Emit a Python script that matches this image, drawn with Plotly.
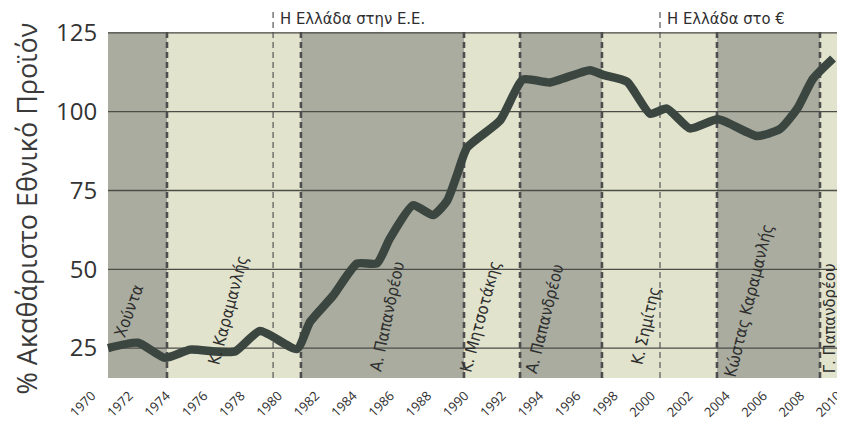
import plotly.graph_objects as go

# ---- data ----
years = [1970.0, 1971.65, 1973.13, 1974.51, 1975.88, 1976.98, 1978.35, 1980.38,
         1981.10, 1982.36, 1983.68, 1984.78, 1985.49, 1986.76, 1987.86, 1988.63,
         1989.18, 1989.73, 1991.54, 1992.80, 1994.29, 1996.48, 1997.20, 1998.52,
         1999.78, 2000.71, 2001.98, 2003.52, 2005.66, 2006.92, 2007.86, 2008.74,
         2009.84]
debt = [25.0, 26.7, 21.9, 24.5, 23.9, 23.9, 30.4, 24.7,
        33.3, 41.6, 51.8, 51.9, 59.8, 70.3, 67.2, 71.7,
        80.0, 88.6, 97.2, 110.2, 109.3, 113.2, 111.7, 109.5,
        99.4, 101.0, 94.7, 97.6, 92.3, 94.5, 100.9, 110.5,
        116.9]

tick_years = list(range(1970, 2011, 2))
y_ticks = [25, 50, 75, 100, 125]

period_bounds = [1973.24, 1980.60, 1989.56, 1992.64, 1997.14, 2003.46, 2009.12]
period_dark = [True, False, True, False, True, False, True, False]
leaders = ["Χούντα", "Κ. Καραμανλής", "Α. Παπανδρέου", "Κ. Μητσοτάκης",
           "Α. Παπανδρέου", "Κ. Σημίτης", "Κώστας Καραμανλής", "Γ. Παπανδρέου"]

event_years = [1979.07, 2000.33]
event_labels = ["Η Ελλάδα στην Ε.Ε.", "Η Ελλάδα στο €"]

# ---- styling ----
START, END = 1970.0, 2010.44          # shaded chart area
XR = [1968.90, 2010.44]               # main x range (plot area a bit wider on the left)
X2R = [1969.79, 2010.32]              # label axis range
DARK = "#a9ac9f"
LIGHT = "#e1e3cd"
LINE = "#3b4640"
TXT = "#2e2e2e"
COND = "Liberation Sans Narrow, DejaVu Sans Condensed, Roboto, sans-serif"

fig = go.Figure()
fig.add_trace(go.Scatter(
    x=years, y=debt, mode="lines",
    line=dict(color=LINE, width=8.5, shape="spline", smoothing=0.55),
    hoverinfo="skip", showlegend=False))
fig.add_trace(go.Scatter(x=[tick_years[0], tick_years[-1]], y=[None, None],
                         xaxis="x2", mode="lines", showlegend=False,
                         hoverinfo="skip"))

shapes = []
edges = [START] + period_bounds + [END]
for i in range(len(edges) - 1):
    shapes.append(dict(type="rect", xref="x", yref="paper",
                       x0=edges[i], x1=edges[i + 1], y0=0, y1=1,
                       fillcolor=DARK if period_dark[i] else LIGHT,
                       line=dict(width=0), layer="below"))
for v in y_ticks:
    shapes.append(dict(type="line", xref="x", yref="y", x0=START, x1=END,
                       y0=v, y1=v, line=dict(color="#4d4d48", width=1.3),
                       layer="between"))
for b in period_bounds:
    shapes.append(dict(type="line", xref="x", yref="paper", x0=b, x1=b,
                       y0=0, y1=1, line=dict(color="#4e4e4e", width=2.6, dash="6px,4px"),
                       layer="between"))
for e in event_years:
    shapes.append(dict(type="line", xref="x", yref="paper", x0=e, x1=e,
                       y0=0, y1=1.075, line=dict(color="#555", width=1.2, dash="6px,4px"),
                       layer="between"))

annotations = []
label_pos = [(1971.15, 37.0, -70), (1976.59, 37.0, -75), (1985.33, 35.1, -78),
             (1990.46, 35.1, -75), (1993.98, 34.5, -76), (1999.52, 32.0, -77),
             (2005.23, 40.0, -76), (2009.62, 34.5, -90)]
for name, (lx, ly, ang) in zip(leaders, label_pos):
    annotations.append(dict(x=lx, y=ly, xref="x", yref="y", text=name,
                            showarrow=False, textangle=ang,
                            font=dict(family=COND, size=16.5, color=TXT),
                            xanchor="center", yanchor="middle"))
for e, t in zip(event_years, event_labels):
    annotations.append(dict(x=e, y=1.0, xref="x", yref="paper", text=t,
                            showarrow=False, xanchor="left", yanchor="bottom",
                            xshift=5, yshift=2,
                            font=dict(family=COND, size=16.5, color=TXT)))
annotations.append(dict(x=-0.082, y=0.49, xref="paper", yref="paper",
                        text="% Ακαθάριστο Εθνικό Προϊόν", showarrow=False,
                        textangle=-90, xanchor="center", yanchor="middle",
                        font=dict(family="Open Sans, sans-serif", size=27, color="#3a3a3a")))

# the page body has an 8px margin: shrink the figure so the plot lands at the same spots
fig.update_layout(
    width=837, height=421,
    margin=dict(l=80, r=1, t=24, b=51),
    paper_bgcolor="white", plot_bgcolor="white",
    shapes=shapes, annotations=annotations,
    xaxis=dict(range=XR, showticklabels=False, showgrid=False, automargin=False,
               zeroline=False, showline=False, fixedrange=True),
    xaxis2=dict(overlaying="x", side="bottom", anchor="y", automargin=False,
                range=X2R, tickvals=tick_years, ticklabeloverflow="allow",
                ticktext=[str(t) for t in tick_years], tickangle=-45,
                showgrid=False, zeroline=False, showline=False,
                ticks="outside", ticklen=4, tickcolor="rgba(0,0,0,0)",
                tickfont=dict(family="Open Sans, sans-serif", size=13, color=TXT)),
    yaxis=dict(range=[15.5, 125.3], tickvals=y_ticks, automargin=False,
               ticktext=[str(v) for v in y_ticks],
               anchor="free", position=20 / 756,
               showgrid=False, zeroline=False, showline=False,
               ticks="outside", ticklen=6, tickcolor="rgba(0,0,0,0)",
               tickfont=dict(family="Open Sans, sans-serif", size=24, color="#333")),
)

fig.write_html("out.html")
